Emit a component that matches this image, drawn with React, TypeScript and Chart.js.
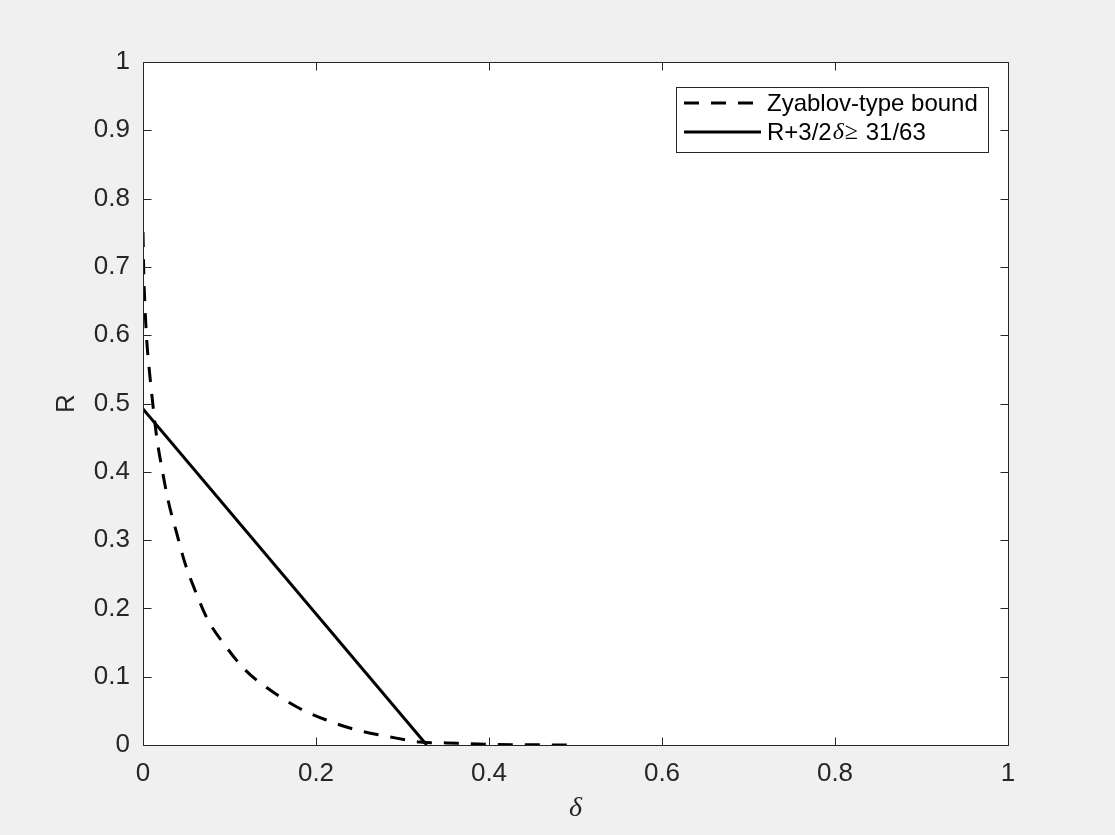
import React, { useEffect, useRef } from "react";
import { Chart, registerables } from "chart.js";

Chart.register(...registerables);

// Zyablov-type bound (dashed)
const zyablovDelta = [0, 0.001, 0.0023, 0.0043, 0.0073, 0.0112, 0.0158, 0.0216, 0.0289, 0.039, 0.0486, 0.06, 0.075, 0.0948, 0.118, 0.147, 0.178, 0.212, 0.247, 0.286, 0.32, 0.351, 0.4, 0.45, 0.5];
const zyablovR = [0.751, 0.685, 0.641, 0.593, 0.549, 0.501, 0.451, 0.407, 0.359, 0.31, 0.266, 0.227, 0.183, 0.146, 0.11, 0.0805, 0.0556, 0.0366, 0.022, 0.0117, 0.0044, 0.003, 0.001, 0.0003, 0];

// Line R + 3/2 δ = 31/63
const boundDelta = [0, 0.328];
const boundR = [0.492, 0];

const xTicks = [0, 0.2, 0.4, 0.6, 0.8, 1];
const yTicks = [0, 0.1, 0.2, 0.3, 0.4, 0.5, 0.6, 0.7, 0.8, 0.9, 1];

const legendLabels = ["Zyablov-type bound", "R+3/2δ≥ 31/63"];
const xTitle = "δ";
const yTitle = "R";

const AXIS = "#262626";
const SANS = '"Liberation Sans", Arial, sans-serif';
const SERIF = '"Liberation Serif", "Times New Roman", serif';

const decorPlugin = {
  id: "decor",
  beforeDraw(chart: any) {
    const { ctx, chartArea } = chart;
    ctx.save();
    ctx.fillStyle = "#f0f0f0";
    ctx.fillRect(0, 0, chart.width, chart.height);
    ctx.fillStyle = "#ffffff";
    ctx.fillRect(chartArea.left, chartArea.top, chartArea.right - chartArea.left, chartArea.bottom - chartArea.top);
    ctx.restore();
  },
  afterDraw(chart: any) {
    const { ctx, chartArea } = chart;
    const xs = chart.scales.x;
    const ys = chart.scales.y;
    const L = Math.round(chartArea.left) + 0.5;
    const R = Math.round(chartArea.right) + 0.5;
    const T = Math.round(chartArea.top) + 0.5;
    const B = Math.round(chartArea.bottom) + 0.5;
    ctx.save();
    ctx.strokeStyle = AXIS;
    ctx.lineWidth = 1;
    ctx.beginPath();
    ctx.rect(L, T, R - L, B - T);
    const tl = 8;
    xTicks.forEach((v) => {
      const px = Math.round(xs.getPixelForValue(v)) + 0.5;
      ctx.moveTo(px, B);
      ctx.lineTo(px, B - tl);
      ctx.moveTo(px, T);
      ctx.lineTo(px, T + tl);
    });
    yTicks.forEach((v) => {
      const py = Math.round(ys.getPixelForValue(v)) + 0.5;
      ctx.moveTo(L, py);
      ctx.lineTo(L + tl, py);
      ctx.moveTo(R, py);
      ctx.lineTo(R - tl, py);
    });
    ctx.stroke();

    // axis titles
    ctx.fillStyle = AXIS;
    ctx.textAlign = "center";
    ctx.textBaseline = "middle";
    ctx.font = `italic 28px ${SERIF}`;
    ctx.fillText(xTitle, (chartArea.left + chartArea.right) / 2, 809);
    ctx.save();
    ctx.translate(67, (chartArea.top + chartArea.bottom) / 2);
    ctx.rotate(-Math.PI / 2);
    ctx.font = `26px ${SANS}`;
    ctx.fillText(yTitle, 0, 0);
    ctx.restore();

    // legend
    const bx = 676.5, by = 87.5, bw = 312, bh = 65;
    ctx.fillStyle = "#ffffff";
    ctx.fillRect(bx, by, bw, bh);
    ctx.strokeStyle = AXIS;
    ctx.lineWidth = 1;
    ctx.strokeRect(bx, by, bw, bh);
    const rows = [103, 132];
    chart.data.datasets.forEach((ds: any, i: number) => {
      const y = rows[i];
      ctx.beginPath();
      ctx.strokeStyle = "#000";
      ctx.lineWidth = 3;
      ctx.setLineDash(ds.borderDash || []);
      ctx.moveTo(684, y);
      ctx.lineTo(761, y);
      ctx.stroke();
      ctx.setLineDash([]);
    });
    ctx.fillStyle = "#000";
    ctx.textAlign = "left";
    ctx.textBaseline = "middle";
    ctx.font = `24px ${SANS}`;
    ctx.fillText(legendLabels[0], 767, rows[0] + 1);
    // second label, mixed fonts
    const label = legendLabels[1];
    const parts = [
      { t: label.slice(0, 5), f: `24px ${SANS}` },
      { t: label.slice(5, 6), f: `italic 24px ${SERIF}` },
      { t: label.slice(6, 7), f: `24px ${SERIF}` },
      { t: label.slice(7), f: `24px ${SANS}` },
    ];
    let x = 767;
    parts.forEach((p) => {
      ctx.font = p.f;
      ctx.fillText(p.t, x, rows[1] + 1);
      x += ctx.measureText(p.t).width + 1;
    });
    ctx.restore();
  },
};

export default function App() {
  const ref = useRef<HTMLCanvasElement | null>(null);
  useEffect(() => {
    document.body.style.margin = "0";
    const canvas = ref.current!;
    const chart = new Chart(canvas, {
      type: "scatter",
      data: {
        datasets: [
          {
            label: legendLabels[0],
            data: zyablovDelta.map((d, i) => ({ x: d, y: zyablovR[i] })),
            showLine: true,
            borderColor: "#000",
            borderWidth: 3,
            borderDash: [15, 12],
            pointRadius: 0,
            cubicInterpolationMode: "monotone",
          },
          {
            label: legendLabels[1],
            data: boundDelta.map((d, i) => ({ x: d, y: boundR[i] })),
            showLine: true,
            borderColor: "#000",
            borderWidth: 3,
            pointRadius: 0,
          },
        ],
      },
      options: {
        responsive: false,
        animation: false,
        layout: { padding: { left: 0, right: 107, top: 62, bottom: 0 } },
        plugins: { legend: { display: false }, tooltip: { enabled: false } },
        scales: {
          x: {
            type: "linear",
            min: 0,
            max: 1,
            afterFit: (s: any) => { s.height = 90; },
            afterBuildTicks: (s: any) => { s.ticks = xTicks.map((v) => ({ value: v })); },
            grid: { display: false, drawTicks: false },
            border: { display: false },
            ticks: { color: AXIS, font: { family: SANS, size: 26 }, padding: 13, maxRotation: 0, callback: (v: any) => String(v) },
          },
          y: {
            type: "linear",
            min: 0,
            max: 1,
            afterFit: (s: any) => { s.width = 143; },
            afterBuildTicks: (s: any) => { s.ticks = yTicks.map((v) => ({ value: v })); },
            grid: { display: false, drawTicks: false },
            border: { display: false },
            ticks: { color: AXIS, font: { family: SANS, size: 26 }, padding: 13, callback: (v: any) => String(v) },
          },
        },
      },
      plugins: [decorPlugin],
    } as any);
    return () => chart.destroy();
  }, []);
  return (
    <div style={{ position: "absolute", left: 0, top: 0, width: 1115, height: 835 }}>
      <canvas ref={ref} width={1115} height={835} style={{ display: "block" }} />
    </div>
  );
}
